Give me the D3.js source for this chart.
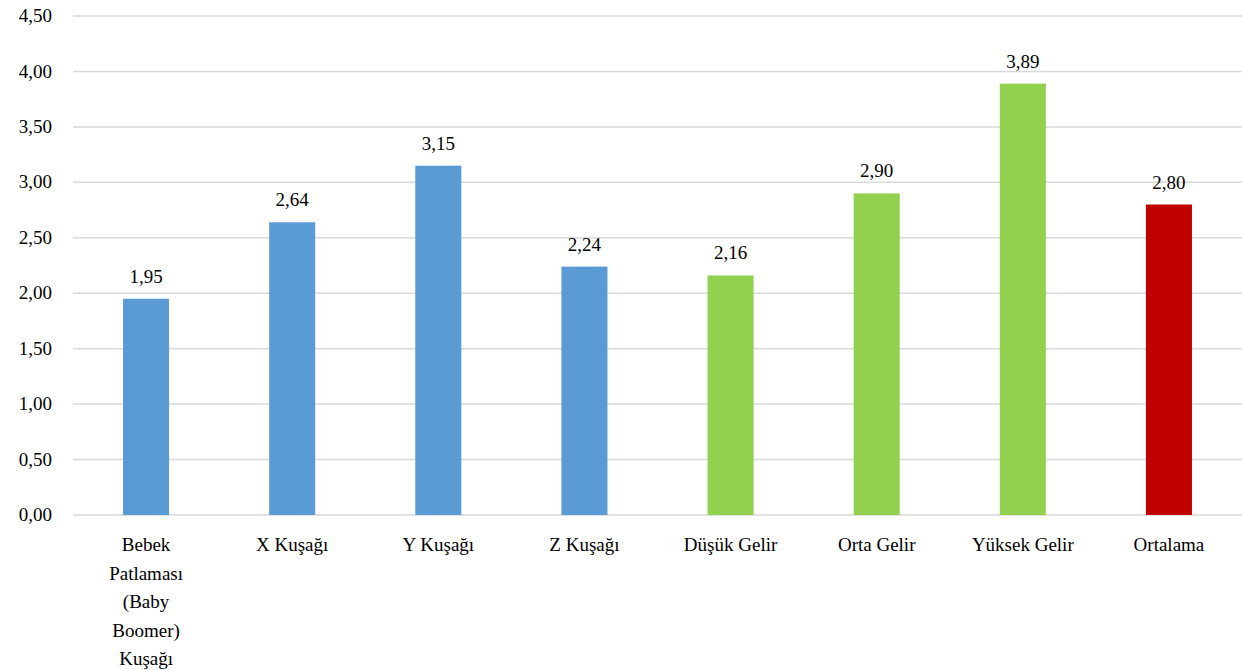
<!DOCTYPE html>
<html>
<head>
<meta charset="utf-8">
<script src="https://d3js.org/d3.v7.min.js"></script>
</head>
<body>
<script>
const categories = [
  ["Bebek", "Patlaması", "(Baby", "Boomer)", "Kuşağı"],
  ["X Kuşağı"],
  ["Y Kuşağı"],
  ["Z Kuşağı"],
  ["Düşük Gelir"],
  ["Orta Gelir"],
  ["Yüksek Gelir"],
  ["Ortalama"]
];
const values = [1.95, 2.64, 3.15, 2.24, 2.16, 2.90, 3.89, 2.80];
const groups = ["kusak", "kusak", "kusak", "kusak", "gelir", "gelir", "gelir", "ort"];
const yTicks = [0, 0.5, 1, 1.5, 2, 2.5, 3, 3.5, 4, 4.5];

const colors = { kusak: "#5B9BD5", gelir: "#92D050", ort: "#C00000" };
const FONT = "Times New Roman";

const W = 1242, H = 670;
const margin = { top: 16, right: 0, bottom: 155, left: 73 };
const width = W - margin.left - margin.right;
const height = H - margin.top - margin.bottom;

const fmt = v => d3.format(".2f")(v).replace(".", ",");

d3.select("body").style("margin", "0px");

const root = d3.select("body").append("svg")
  .attr("width", W)
  .attr("height", H)
  .style("display", "block");

const svg = root.append("g")
  .attr("transform", `translate(${margin.left}, ${margin.top})`);

const x = d3.scaleBand()
  .domain(d3.range(values.length))
  .range([0, width])
  .paddingInner(0.685)
  .paddingOuter(0.3425);

const y = d3.scaleLinear()
  .domain([0, 4.5])
  .range([height, 0]);

// grid lines
svg.append("g")
  .selectAll("line")
  .data(yTicks)
  .join("line")
  .attr("x1", 0)
  .attr("x2", width)
  .attr("y1", d => y(d))
  .attr("y2", d => y(d))
  .attr("stroke", "#d9d9d9")
  .attr("stroke-width", 1.5);

// y axis labels
svg.selectAll("text.tick")
  .data(yTicks)
  .join("text")
  .attr("class", "tick")
  .attr("x", -21)
  .attr("y", d => y(d))
  .attr("dy", "0.32em")
  .attr("text-anchor", "end")
  .attr("font-family", FONT)
  .attr("font-size", 19)
  .text(d => fmt(d));

// bars
svg.selectAll("rect.bar")
  .data(values)
  .join("rect")
  .attr("class", "bar")
  .attr("x", (d, i) => x(i))
  .attr("width", x.bandwidth())
  .attr("y", d => y(d))
  .attr("height", d => height - y(d))
  .attr("fill", (d, i) => colors[groups[i]]);

// value labels
svg.selectAll("text.val")
  .data(values)
  .join("text")
  .attr("class", "val")
  .attr("x", (d, i) => x(i) + x.bandwidth() / 2)
  .attr("y", d => y(d) - 16)
  .attr("text-anchor", "middle")
  .attr("font-family", FONT)
  .attr("font-size", 19)
  .text(d => fmt(d));

// category labels
const cat = svg.selectAll("text.cat")
  .data(categories)
  .join("text")
  .attr("class", "cat")
  .attr("text-anchor", "middle")
  .attr("font-family", FONT)
  .attr("font-size", 19)
  .attr("transform", (d, i) => `translate(${x(i) + x.bandwidth() / 2}, ${height + 36})`);

cat.selectAll("tspan")
  .data(d => d)
  .join("tspan")
  .attr("x", 0)
  .attr("y", (d, j) => j * 28.5)
  .text(d => d);
</script>
</body>
</html>
